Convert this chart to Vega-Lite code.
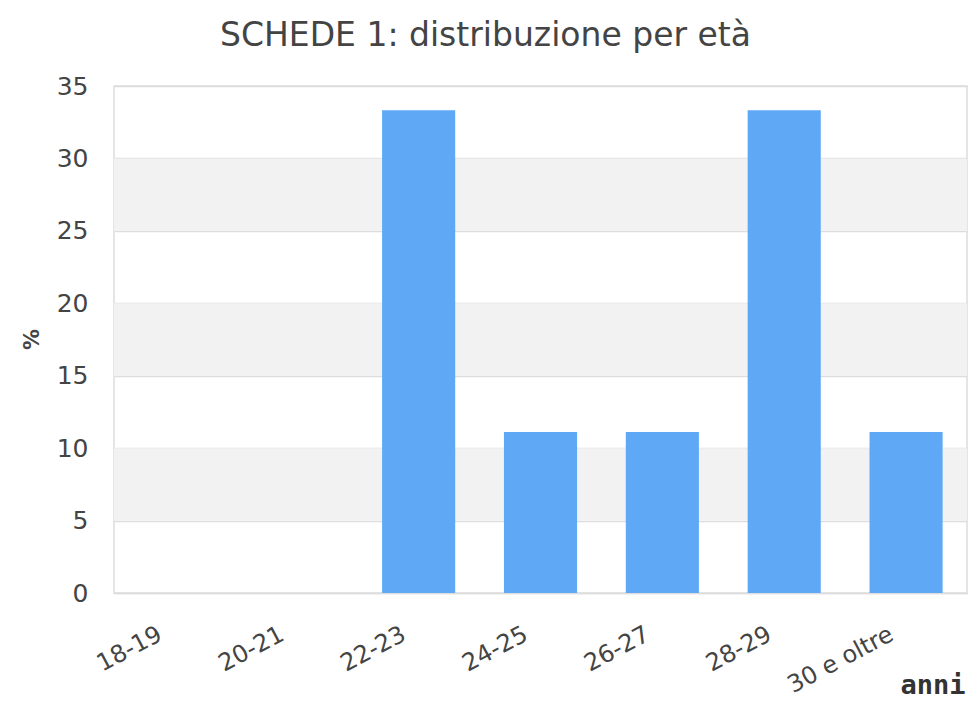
{
  "$schema": "https://vega.github.io/schema/vega-lite/v6.json",
  "width": 853,
  "height": 507,
  "autosize": {"type": "none"},
  "padding": {"left": 114, "top": 86, "right": 3, "bottom": 108},
  "background": "white",
  "config": {
    "font": "DejaVu Sans",
    "view": {"stroke": "#dddddd", "strokeWidth": 1.5}
  },
  "title": {
    "text": "SCHEDE 1: distribuzione per età",
    "font": "DejaVu Sans",
    "fontSize": 33,
    "fontWeight": "normal",
    "color": "#444444",
    "anchor": "middle",
    "dx": -55,
    "offset": 21
  },
  "datasets": {
    "eta": [
      {"classe": "18-19", "perc": 0},
      {"classe": "20-21", "perc": 0},
      {"classe": "22-23", "perc": 33.33},
      {"classe": "24-25", "perc": 11.11},
      {"classe": "26-27", "perc": 11.11},
      {"classe": "28-29", "perc": 33.33},
      {"classe": "30 e oltre", "perc": 11.11}
    ],
    "fasce": [
      {"da": 25, "a": 30},
      {"da": 15, "a": 20},
      {"da": 5, "a": 10}
    ]
  },
  "layer": [
    {
      "data": {"name": "fasce"},
      "mark": {"type": "rect", "color": "#f2f2f2"},
      "encoding": {
        "y": {
          "field": "da",
          "type": "quantitative",
          "scale": {"domain": [0, 35]},
          "axis": {
            "title": "%",
            "titleFontSize": 21,
            "titleFontWeight": "bold",
            "titleColor": "#444444",
            "titleAngle": -90,
            "titleX": -82,
            "titleY": 253,
            "titleAlign": "center",
            "titleBaseline": "middle",
            "values": [0, 5, 10, 15, 20, 25, 30, 35],
            "labelFontSize": 25,
            "labelColor": "#444444",
            "labelPadding": 26,
            "ticks": false,
            "domain": false,
            "gridColor": "#dddddd",
            "gridWidth": 1.5
          }
        },
        "y2": {"field": "a"}
      }
    },
    {
      "data": {"name": "eta"},
      "mark": {"type": "bar", "color": "#5fa8f5"},
      "encoding": {
        "x": {
          "field": "classe",
          "type": "nominal",
          "sort": null,
          "scale": {"paddingInner": 0.4, "paddingOuter": 0.2},
          "axis": {
            "title": "anni",
            "titleFont": "DejaVu Sans Mono",
            "titleFontSize": 27,
            "titleFontWeight": "bold",
            "titleColor": "#333333",
            "titleAnchor": "end",
            "titleAlign": "right",
            "titleBaseline": "alphabetic",
            "titleX": 851,
            "titleY": 100,
            "labelAngle": -28,
            "labelAlign": "right",
            "labelBaseline": "top",
            "labelFontSize": 24,
            "labelColor": "#444444",
            "labelPadding": 29,
            "labelOffset": -20,
            "ticks": false,
            "domainColor": "#dddddd",
            "domainWidth": 1.5
          }
        },
        "y": {
          "field": "perc",
          "type": "quantitative",
          "scale": {"domain": [0, 35]}
        }
      }
    }
  ]
}
